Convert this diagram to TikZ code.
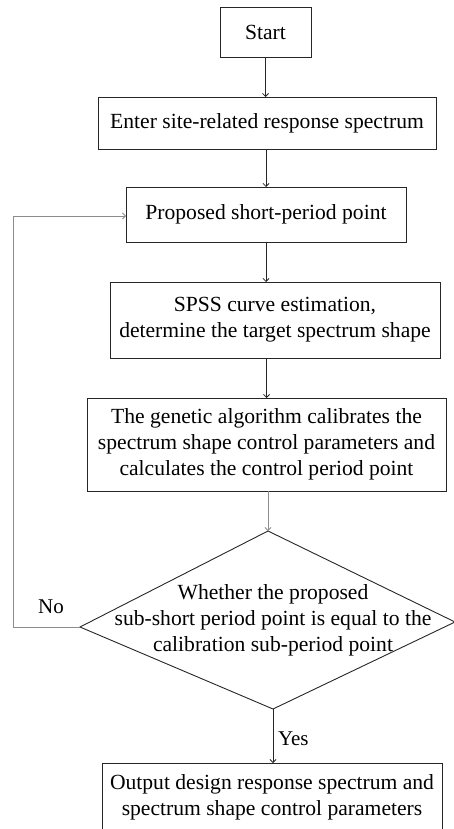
\documentclass[tikz,border=0pt]{standalone}
\usepackage{fontspec}
\setmainfont{Liberation Serif}
\usetikzlibrary{arrows.meta}
\begin{document}
\begin{tikzpicture}[x=1pt,y=-1pt,
  font=\fontsize{21.6}{25.8}\selectfont,
  every node/.style={inner sep=0pt, outer sep=0pt, align=center},
  procbox/.style={draw=black!85, line width=0.9pt},
  flow/.style={draw=black!85, line width=0.8pt, -{Straight Barb[length=3pt,width=6pt]}},
  flowlight/.style={flow, draw=black!45},
  lbl/.style={font=\fontsize{21}{24}\selectfont}]
\useasboundingbox (0,0) rectangle (454,829);
% process boxes
\node[procbox, minimum width=91pt, minimum height=50pt] (start) at (265.5,32) {Start};
\node[procbox, minimum width=338pt, minimum height=52pt] (enter) at (267,123) {Enter site-related response spectrum};
\node[procbox, minimum width=280pt, minimum height=55pt] (prop) at (266,214.5) {Proposed short-period point};
\node[procbox, minimum width=330pt, minimum height=76pt] (spss) at (275,320) {SPSS curve estimation,\\determine the target spectrum shape};
\node[procbox, minimum width=359pt, minimum height=93pt] (ga) at (266.5,444.5) {The genetic algorithm calibrates the\\spectrum shape control parameters and\\calculates the control period point};
% decision diamond
\coordinate (dtop) at (268,531);
\coordinate (dright) at (455,622);
\coordinate (dbot) at (273,709);
\coordinate (dleft) at (80,627);
\draw[line width=0.9pt, draw=black!85] (dtop) -- (dright) -- (dbot) -- (dleft) -- cycle;
\node (dec) at (273,620) {Whether the proposed\\sub-short period point is equal to the\\calibration sub-period point};
% output box, running past the lower edge
\draw[procbox] (102,763) rectangle (442,840);
\node (out) at (272,797) {Output design response spectrum and\\spectrum shape control parameters};
\coordinate (outtop) at (273,763);
% connectors
\draw[flow] (start.south) -- (start.south |- enter.north);
\draw[flow] (enter.south -| prop.north) -- (prop.north);
\draw[flow] (prop.south) -- (prop.south |- spss.north);
\draw[flow] (spss.south -| ga.north) -- (ga.north);
\draw[flowlight] (ga.south -| dtop) -- (dtop);
\draw[flow] (dbot) -- node[right=5pt, lbl, pos=0.55] (yes) {Yes} (outtop);
\coordinate (fbl) at (13,627);
\draw[flowlight] (dleft) -- (fbl) -- (fbl |- 0,216) -- (prop.west |- 0,216);
\node[lbl] (no) at (51,607) {No};
\end{tikzpicture}
\end{document}
